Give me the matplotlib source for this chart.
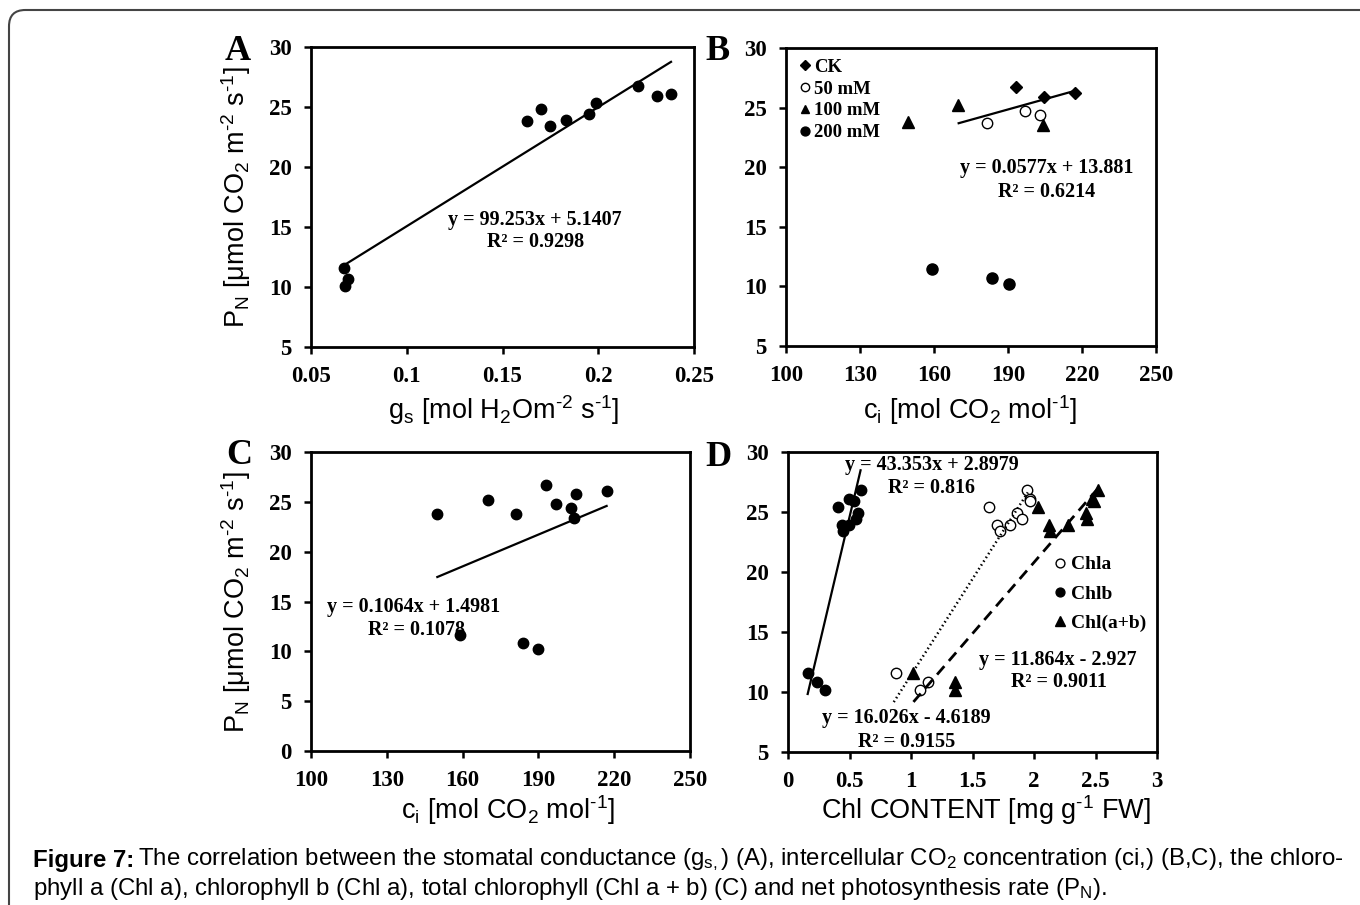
import numpy as np
import matplotlib
matplotlib.use("Agg")
import matplotlib.pyplot as plt
from matplotlib.patches import FancyBboxPatch

plt.rcParams['mathtext.fontset'] = 'custom'
plt.rcParams['mathtext.rm'] = 'Liberation Sans'
plt.rcParams['mathtext.it'] = 'Liberation Sans'
plt.rcParams['mathtext.bf'] = 'Liberation Sans:bold'

# ---- data ----
# panel A: stomatal conductance vs net photosynthesis
a_gs = [0.0674, 0.0692, 0.0678, 0.163, 0.170, 0.175, 0.183, 0.195, 0.199, 0.221, 0.2305, 0.238]
a_pn = [11.6, 10.7, 10.1, 23.8, 24.8, 23.4, 23.9, 24.4, 25.3, 26.75, 25.9, 26.1]
a_fit = (99.253, 5.1407, 0.9298)

# panel B: ci vs PN grouped by salt treatment
b_groups = ['CK', '50 mM', '100 mM', '200 mM']
b_ci = [[193.2, 204.7, 217.1], [181.3, 196.9, 203.0], [149.6, 169.9, 204.0], [159.3, 183.7, 190.4]]
b_pn = [[26.7, 25.9, 26.2], [23.7, 24.7, 24.4], [23.8, 25.2, 23.5], [11.5, 10.7, 10.2]]
b_fit = (0.0577, 13.881, 0.6214)
b_fit_range = [170, 217]

# panel C: ci vs PN (all points)
c_ci = [150, 170, 181, 193, 197, 203, 204, 205, 217, 159, 184, 190]
c_pn = [23.8, 25.2, 23.8, 26.7, 24.8, 24.4, 23.4, 25.8, 26.1, 11.6, 10.8, 10.2]
c_fit = (0.1064, 1.4981, 0.1078)
c_fit_range = [150, 217]

# panel D: chlorophyll content vs PN
d_pn = [11.6, 10.8, 10.2, 25.4, 23.9, 23.4, 23.9, 24.9, 24.4, 26.8, 26.1, 25.9]
chla = [0.876, 1.136, 1.073, 1.637, 1.70, 1.72, 1.805, 1.86, 1.90, 1.94, 1.967, 1.97]
chlb = [0.16, 0.236, 0.30, 0.404, 0.437, 0.45, 0.496, 0.572, 0.553, 0.593, 0.498, 0.537]
chlt = [1.02, 1.36, 1.36, 2.03, 2.12, 2.13, 2.28, 2.42, 2.43, 2.52, 2.47, 2.49]
chla_fit = (16.026, -4.6189, 0.9155)
chlb_fit = (43.353, 2.8979, 0.816)
chlt_fit = (11.864, -2.927, 0.9011)
chla_range = [0.86, 1.95]
chlb_range = [0.16, 0.59]
chlt_range = [1.02, 2.52]

W, H = 1360, 905
fig = plt.figure(figsize=(W / 100, H / 100), dpi=100)

SERIF = 'Liberation Serif'
SANS = 'Liberation Sans'


def add_ax(l, t, r, b):
    return fig.add_axes([l / W, 1 - b / H, (r - l) / W, (b - t) / H])


def ftext(x, y, s, **kw):
    return fig.text(x / W, 1 - y / H, s, **kw)


def style(ax, xlim, ylim, xticks, yticks, xfmt):
    ax.set_xlim(xlim)
    ax.set_ylim(ylim)
    ax.set_xticks(xticks)
    ax.set_yticks(yticks)
    ax.set_xticklabels([xfmt(v) for v in xticks])
    for sp in ax.spines.values():
        sp.set_linewidth(2.0)
    ax.tick_params(direction='out', length=5, width=1.8, pad=9, labelsize=16.5)
    for lab in ax.get_xticklabels() + ax.get_yticklabels():
        lab.set_fontfamily(SERIF)
        lab.set_fontweight('bold')


def fit_line(ax, fit, xr, **kw):
    xs = np.array(xr, dtype=float)
    ax.plot(xs, fit[0] * xs + fit[1], color='black', **kw)


def eq_text(fit):
    sign = '+' if fit[1] >= 0 else '-'
    return 'y = %sx %s %s' % (fit[0], sign, abs(fit[1]))


eqkw = dict(fontfamily=SERIF, fontweight='bold', fontsize=14.5, ha='center', va='center')
g = lambda v: ('%g' % v)
mk = dict(linestyle='none', color='black', markersize=7.5)

# ---- A ----
axA = add_ax(311, 47, 694, 347)
axA.plot(a_gs, a_pn, marker='o', **mk)
fit_line(axA, a_fit, [min(a_gs), max(a_gs)], lw=1.6)
style(axA, (0.05, 0.25), (5, 30), [0.05, 0.1, 0.15, 0.2, 0.25], [5, 10, 15, 20, 25, 30], g)
ftext(535, 220, eq_text(a_fit), **eqkw)
ftext(536, 242, 'R² = %s' % a_fit[2], **eqkw)

# ---- B ----
axB = add_ax(786, 48, 1156, 346)
b_markers = [dict(marker='D', markersize=6, mfc='black'),
             dict(marker='o', markersize=7.5, mfc='white', mew=1.0),
             dict(marker='^', markersize=8, mfc='black'),
             dict(marker='o', markersize=8, mfc='black')]
for name, xs, ys, m in zip(b_groups, b_ci, b_pn, b_markers):
    axB.plot(xs, ys, linestyle='none', color='black', label=name, **m)
fit_line(axB, b_fit, b_fit_range, lw=1.6)
style(axB, (100, 250), (5, 30), [100, 130, 160, 190, 220, 250], [5, 10, 15, 20, 25, 30], g)
axB.legend(loc='upper left', bbox_to_anchor=(0.0, 1.008), frameon=False, handlelength=0.6,
           handletextpad=0.2, labelspacing=0.25, borderaxespad=0.3, markerscale=0.8,
           prop=dict(family=SERIF, weight='bold', size=13.5))
ftext(1047, 168, eq_text(b_fit), **eqkw)
ftext(1047, 192, 'R² = %s' % b_fit[2], **eqkw)

# ---- C ----
axC = add_ax(311, 452, 690, 751)
axC.plot(c_ci, c_pn, marker='o', **mk)
fit_line(axC, c_fit, c_fit_range, lw=1.6)
style(axC, (100, 250), (0, 30), [100, 130, 160, 190, 220, 250], [0, 5, 10, 15, 20, 25, 30], g)
ftext(414, 607, eq_text(c_fit), **eqkw)
ftext(417, 630, 'R² = %s' % c_fit[2], **eqkw)

# ---- D ----
axD = add_ax(788, 452, 1157, 752)
axD.plot(chla, d_pn, marker='o', mfc='white', mew=1.0, label='Chla', **mk)
axD.plot(chlb, d_pn, marker='o', label='Chlb', **mk)
axD.plot(chlt, d_pn, marker='^', label='Chl(a+b)', linestyle='none', color='black', markersize=8.5)
fit_line(axD, chlb_fit, chlb_range, lw=1.6)
fit_line(axD, chla_fit, chla_range, lw=1.8, linestyle=(0, (0.6, 1.2)))
fit_line(axD, chlt_fit, chlt_range, lw=2.0, linestyle=(0, (4, 2.5)))
style(axD, (0, 3), (5, 30), [0, 0.5, 1, 1.5, 2, 2.5, 3], [5, 10, 15, 20, 25, 30], g)
axD.legend(loc='upper left', bbox_to_anchor=(0.7, 0.68), frameon=False, handlelength=0.6,
           handletextpad=0.25, labelspacing=0.6, borderaxespad=0.0, markerscale=0.85,
           prop=dict(family=SERIF, weight='bold', size=14))
ftext(932, 465, eq_text(chlb_fit), **eqkw)
ftext(931, 488, 'R² = %s' % chlb_fit[2], **eqkw)
ftext(1058, 660, eq_text(chlt_fit), **eqkw)
ftext(1059, 682, 'R² = %s' % chlt_fit[2], **eqkw)
ftext(906, 718, eq_text(chla_fit), **eqkw)
ftext(907, 742, 'R² = %s' % chla_fit[2], **eqkw)

# ---- panel letters ----
letkw = dict(fontfamily=SERIF, fontweight='bold', fontsize=26, ha='center', va='center')
ftext(238, 52, 'A', **letkw)
ftext(718, 52, 'B', **letkw)
ftext(239, 455, 'C', **letkw)
ftext(718, 457, 'D', **letkw)

# ---- axis labels ----
labkw = dict(fontfamily=SANS, fontsize=19.5, ha='center', va='center')
ylab = r'P$_\mathregular{N}$ [μmol CO$_2$ m$^{\text{-}2}$ s$^{\text{-}1}$]'
ftext(236, 197, ylab, rotation=90, **labkw)
ftext(236, 602, ylab, rotation=90, **labkw)
ftext(504, 410, r'g$_\mathregular{s}$ [mol H$_2$Om$^{\text{-}2}$ s$^{\text{-}1}$]', **labkw)
ftext(970, 410, r'c$_\mathregular{i}$ [mol CO$_2$ mol$^{\text{-}1}$]', **labkw)
ftext(508, 810, r'c$_\mathregular{i}$ [mol CO$_2$ mol$^{\text{-}1}$]', **labkw)
ftext(986, 810, r'Chl CONTENT [mg g$^{\text{-}1}$ FW]', **labkw)

# ---- caption ----
capkw = dict(fontfamily=SANS, fontsize=17.3, ha='left', va='center')
head = ftext(33, 860, 'Figure 7:', fontweight='bold', **capkw)
fig.canvas.draw()
x1 = head.get_window_extent().x1
ftext(x1 + 4, 860, r'The correlation between the stomatal conductance (g$_\mathregular{s,}$) (A), '
      r'intercellular CO$_2$ concentration (ci,) (B,C), the chloro-', **capkw)
ftext(33, 889, r'phyll a (Chl a), chlorophyll b (Chl a), total chlorophyll (Chl a + b) (C) and net '
      r'photosynthesis rate (P$_\mathregular{N}$).', **capkw)

# ---- page frame ----
frame = FancyBboxPatch((9 / W, -0.2), 1.2, 0.2 + 1 - 10 / H, boxstyle='round,pad=0,rounding_size=0.012',
                       transform=fig.transFigure, fill=False, edgecolor='#444444', lw=1.5,
                       mutation_aspect=W / H)
fig.add_artist(frame)

fig.savefig('out.png', dpi=100, facecolor='white')
